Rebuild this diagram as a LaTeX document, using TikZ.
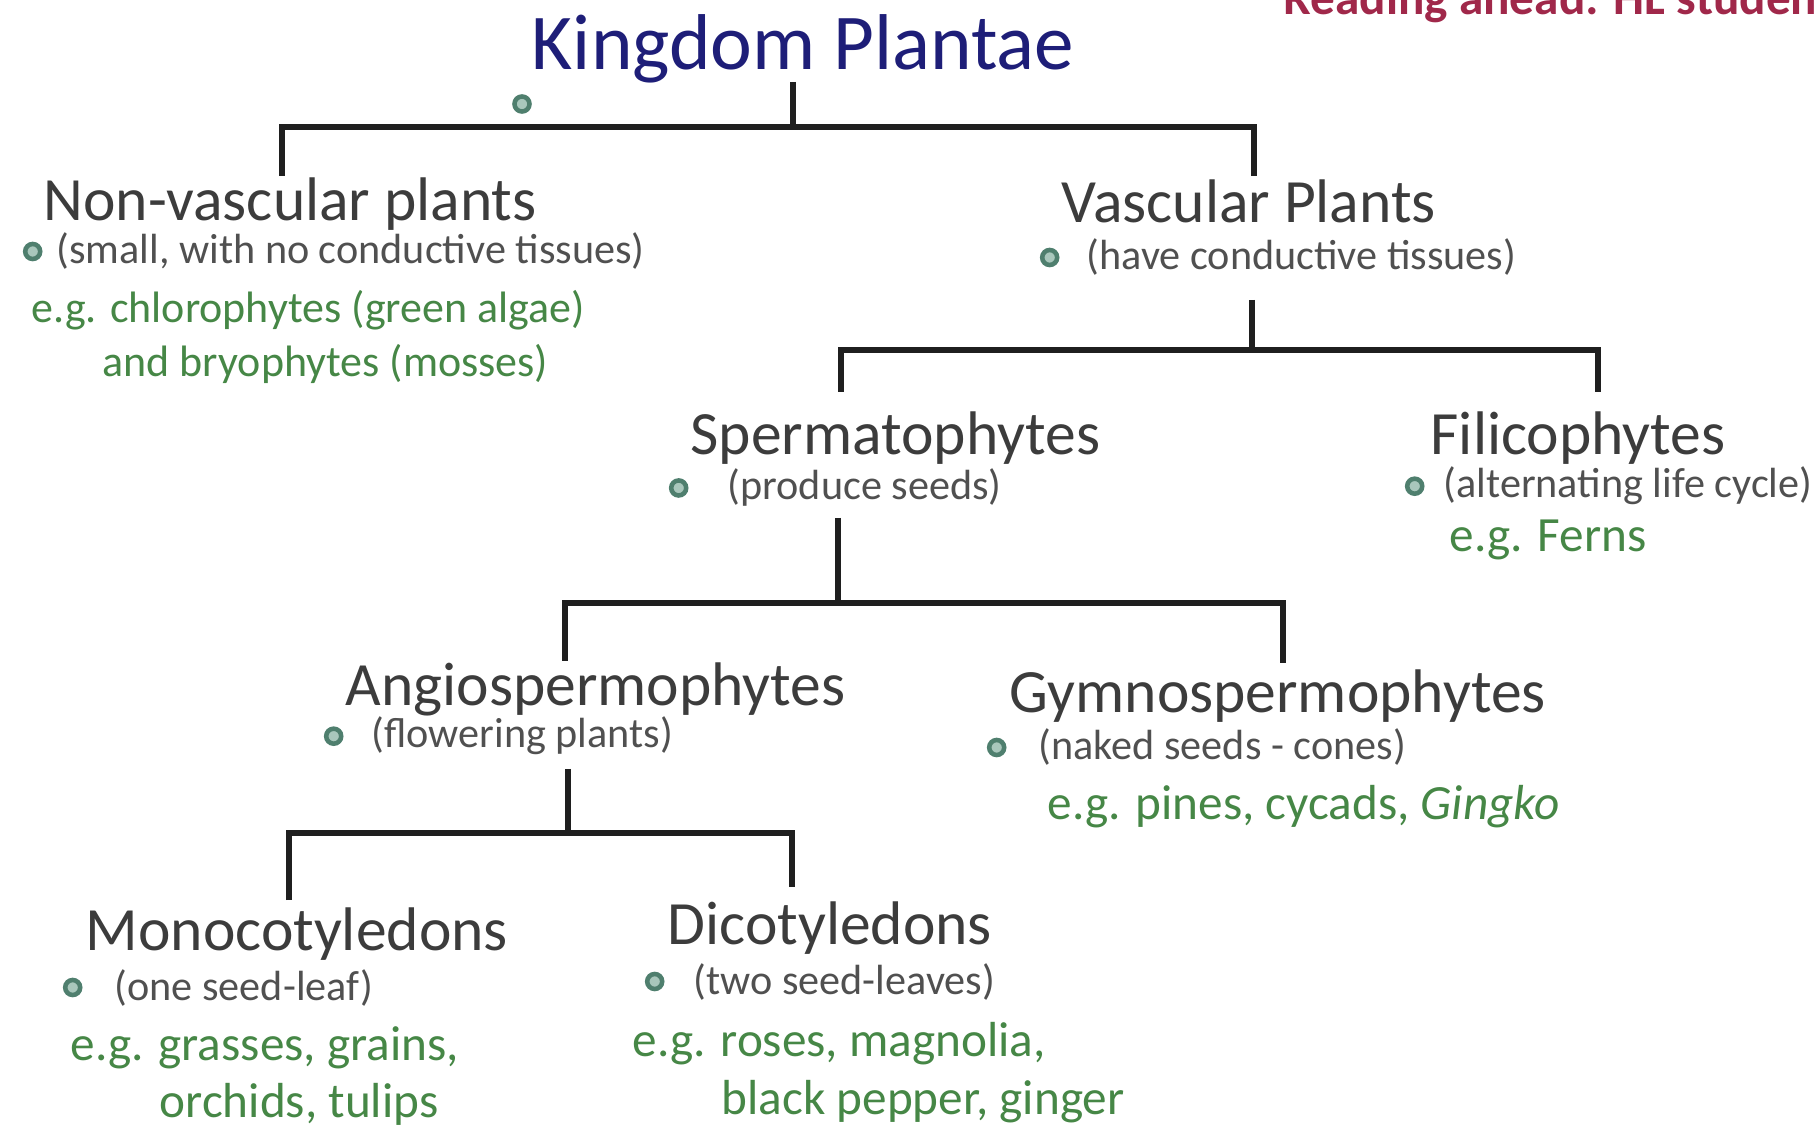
\documentclass[tikz,border=0pt]{standalone}
\usepackage{fontspec}
\setmainfont{Carlito}
\usepackage{xcolor}
\usetikzlibrary{positioning}

\definecolor{kpblue}{HTML}{1E1E78}
\definecolor{taxgrey}{HTML}{3C3C3C}
\definecolor{notegrey}{HTML}{505050}
\definecolor{egreen}{HTML}{468746}
\definecolor{readred}{HTML}{A0284A}
\definecolor{dotring}{HTML}{4F7F6E}
\definecolor{dotfill}{HTML}{A9C7BC}

\begin{document}
\begin{tikzpicture}[
    x=0.01cm, y=-0.01cm,
    % main title
    title/.style={font=\fontsize{22.5}{26}\selectfont, text=kpblue,
                  inner sep=0pt, anchor=base},
    % group names (dark grey)
    taxon/.style={font=\fontsize{17.5}{21}\selectfont, text=taxgrey,
                  inner sep=0pt, anchor=base west},
    % bracketed remark under a group
    remark/.style={font=\fontsize{12}{14}\selectfont, text=notegrey,
                   inner sep=0pt, anchor=base west},
    % green examples
    example/.style={font=\fontsize{14}{16}\selectfont, text=egreen,
                    inner sep=0pt, anchor=base west},
    % small bullet dots
    dot/.style={circle, draw=dotring, line width=1.3pt, fill=dotfill,
                minimum size=0.15cm, inner sep=0pt},
    branch/.style={line width=1.45pt, draw=black!88}
]
\useasboundingbox (0,0) rectangle (1818,1125);
\clip (0,0) rectangle (1818,1125);

%-------- TITLE --------
\node[title] (kp) at (803,70) {Kingdom Plantae};
\node[dot] (kpdot) at (522,104) {};
\node[font=\fontsize{14}{17}\selectfont\bfseries, text=readred,
      inner sep=0pt, anchor=base west] (read) at (1283,15)
    {Reading ahead: HL students};

%-------- LEVEL 1 --------
\node[taxon] (nv) at (43,221) {Non-vascular plants};
\node[remark] (nvrem) at (56,264) {(small, with no conductive tissues)};
\node[dot, left=0.135cm of nvrem] (nvdot) {};
\node[example, font=\fontsize{12.5}{15}\selectfont] (nveg1) at (31,323)
    {e.g. chlorophytes (green algae)};
\node[example, font=\fontsize{12.5}{15}\selectfont] (nveg2) at (102,377)
    {and bryophytes (mosses)};

\node[taxon] (vp) at (1061,223) {Vascular Plants};
\node[remark] (vprem) at (1086,270) {(have conductive tissues)};
\node[dot, left=0.265cm of vprem] (vpdot) {};

%-------- LEVEL 2 --------
\node[taxon] (sp) at (690,455) {Spermatophytes};
\node[remark] (sprem) at (727,500) {(produce seeds)};
\node[dot, left=0.385cm of sprem] (spdot) {};

\node[taxon] (fi) at (1430,455) {Filicophytes};
\node[remark] (firem) at (1443,498) {(alternating life cycle)};
\node[dot, left=0.185cm of firem] (fidot) {};
\node[example] (fieg) at (1449,552) {e.g. Ferns};

%-------- LEVEL 3 --------
\node[taxon] (an) at (345,706) {Angiospermophytes};
\node[remark] (anrem) at (371,748) {(flowering plants)};
\node[dot, left=0.275cm of anrem] (andot) {};

\node[taxon] (gy) at (1009,713) {Gymnospermophytes};
\node[remark] (gyrem) at (1038,760) {(naked seeds - cones)};
\node[dot, left=0.315cm of gyrem] (gydot) {};
\node[example] (gyeg) at (1047,820) {e.g. pines, cycads, \textit{Gingko}};

%-------- LEVEL 4 --------
\node[taxon] (mo) at (85,950) {Monocotyledons};
\node[remark] (morem) at (114,1000) {(one seed-leaf)};
\node[dot, left=0.315cm of morem] (modot) {};
\node[example] (moeg1) at (70,1060) {e.g. grasses, grains,};
\node[example] (moeg2) at (159,1117) {orchids, tulips};

\node[taxon] (di) at (667,944) {Dicotyledons};
\node[remark] (direm) at (693,994) {(two seed-leaves)};
\node[dot, left=0.285cm of direm] (didot) {};
\node[example] (dieg1) at (632,1056) {e.g. roses, magnolia,};
\node[example] (dieg2) at (721,1114) {black pepper, ginger};

%-------- BRANCH POINTS --------
\coordinate (kpStem) at (793,82);
\coordinate (kpJoin) at (793,127);
\coordinate (nvTop)  at (282,176);
\coordinate (vpTop)  at (1254,176);

\coordinate (vpStem) at (1252,300);
\coordinate (vpJoin) at (1252,350);
\coordinate (spTop)  at (841,392);
\coordinate (fiTop)  at (1598,392);

\coordinate (spStem) at (838,518);
\coordinate (spJoin) at (838,603);
\coordinate (anTop)  at (565,661);
\coordinate (gyTop)  at (1283,663);

\coordinate (anStem) at (568,769);
\coordinate (anJoin) at (568,833);
\coordinate (moTop)  at (289,900);
\coordinate (diTop)  at (792,887);

%-------- BRANCHES --------
\draw[branch] (kpStem) -- (kpJoin);
\draw[branch] (nvTop) |- (kpJoin) -| (vpTop);
\draw[branch] (vpStem) -- (vpJoin);
\draw[branch] (spTop) |- (vpJoin) -| (fiTop);
\draw[branch] (spStem) -- (spJoin);
\draw[branch] (anTop) |- (spJoin) -| (gyTop);
\draw[branch] (anStem) -- (anJoin);
\draw[branch] (moTop) |- (anJoin) -| (diTop);

\end{tikzpicture}
\end{document}
